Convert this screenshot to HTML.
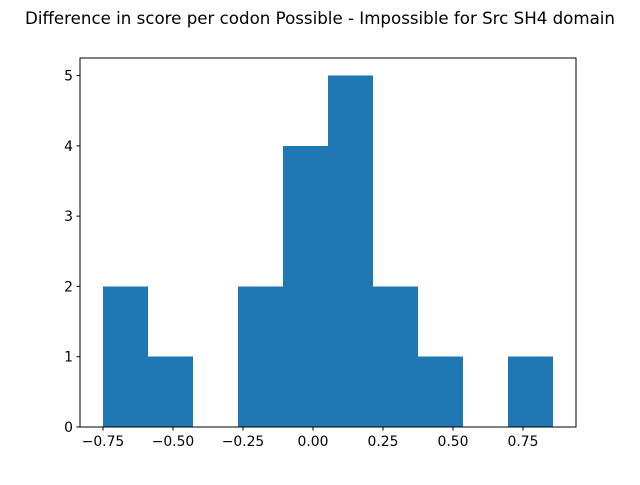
<!DOCTYPE html>
<html><head><meta charset="utf-8"><style>
body{margin:0;background:#fff;}
svg text{font-family:"DejaVu Sans","Liberation Sans",sans-serif;}
</style></head><body>
<svg id="c" width="640" height="480" xmlns="http://www.w3.org/2000/svg">
<rect width="640" height="480" fill="#fff"/>
<text x="320" y="24" font-size="16.67" text-anchor="middle">Difference in score per codon Possible - Impossible for Src SH4 domain</text>
<g id="bars" shape-rendering="crispEdges"></g>
<rect x="80" y="58" width="496" height="369" fill="none" stroke="#000" stroke-width="1" shape-rendering="crispEdges"/>
<g id="ticks"></g>
</svg>
<script>
const binStart = -0.75;
const binEnd = 0.857;
const counts = [2,1,0,2,4,5,2,1,0,1];
const xTicks = [-0.75,-0.5,-0.25,0,0.25,0.5,0.75];
const xTickLabels = ["−0.75","−0.50","−0.25","0.00","0.25","0.50","0.75"];
const yTicks = [0,1,2,3,4,5];

const L=80,R=576,T=58,B=427;
const xMin=-0.8321,xMax=0.9393,yMin=0,yMax=5.25;
function X(v){return L+(v-xMin)/(xMax-xMin)*(R-L);}
function Y(v){return B-(v-yMin)/(yMax-yMin)*(B-T);}
const NS="http://www.w3.org/2000/svg";
const bars=document.getElementById('bars'), ticks=document.getElementById('ticks');
const w=(binEnd-binStart)/counts.length;
counts.forEach((c,i)=>{
  if(!c) return;
  const r=document.createElementNS(NS,'rect');
  const x0=X(binStart+i*w), x1=X(binStart+(i+1)*w);
  r.setAttribute('x',x0);r.setAttribute('width',x1-x0);
  r.setAttribute('y',Y(c));r.setAttribute('height',Y(0)-Y(c));
  r.setAttribute('fill','#1f77b4');
  
  
  bars.appendChild(r);
});
xTicks.forEach((v,i)=>{
  const x=X(v);
  const l=document.createElementNS(NS,'line');
  l.setAttribute('x1',x);l.setAttribute('x2',x);l.setAttribute('y1',B);l.setAttribute('y2',B+3.5);l.setAttribute('stroke','#000');
  
  
  ticks.appendChild(l);
  const t=document.createElementNS(NS,'text');
  t.setAttribute('x',x);t.setAttribute('y',B+19);t.setAttribute('font-size','13.9');t.setAttribute('text-anchor','middle');
  t.textContent=xTickLabels[i];
  
  
  ticks.appendChild(t);
});
yTicks.forEach(v=>{
  const y=Y(v);
  const l=document.createElementNS(NS,'line');
  l.setAttribute('x1',L-3.5);l.setAttribute('x2',L);l.setAttribute('y1',y);l.setAttribute('y2',y);l.setAttribute('stroke','#000');
  
  
  ticks.appendChild(l);
  const t=document.createElementNS(NS,'text');
  t.setAttribute('x',L-7);t.setAttribute('y',y+5);t.setAttribute('font-size','13.9');t.setAttribute('text-anchor','end');
  t.textContent=String(v);
  
  
  ticks.appendChild(t);
});
</script>
</body></html>
